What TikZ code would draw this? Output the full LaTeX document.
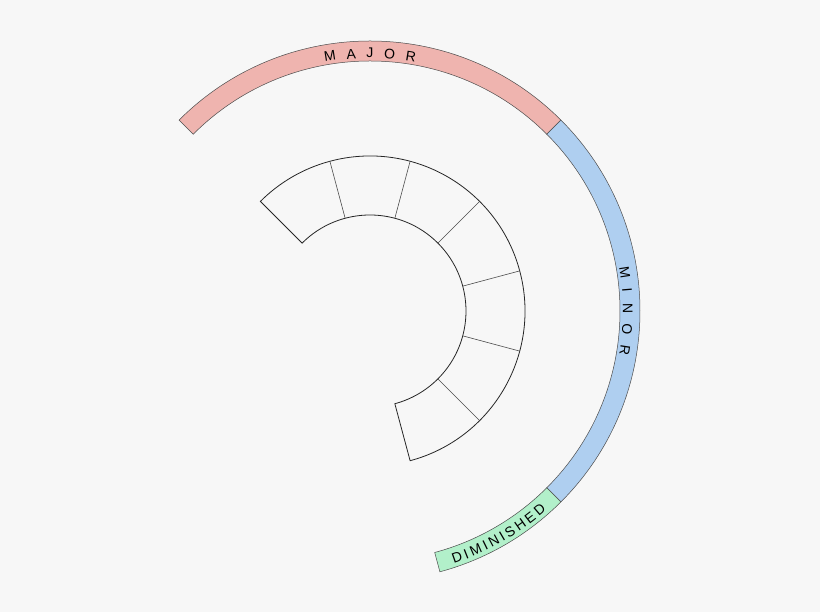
\documentclass[tikz,border=0pt]{standalone}
\usepackage{fontspec}
\setmainfont{Liberation Sans}
\usetikzlibrary{positioning}
\definecolor{bgcol}{HTML}{F7F7F7}
\definecolor{majorpink}{HTML}{EFB4AF}
\definecolor{minorblue}{HTML}{AFCFF0}
\definecolor{dimgreen}{HTML}{B2F0CA}
\tikzset{band/.style={draw=black!70,line width=0.5pt},
         ring/.style={draw=black!85,line width=0.8pt},
         divider/.style={draw=black!70,line width=0.6pt},
         letter/.style={font=\fontsize{14}{14}\selectfont,inner sep=0pt,anchor=base},
            }

\begin{document}
\begin{tikzpicture}[x=1pt,y=1pt]

    \useasboundingbox[fill=bgcol] (-370,-301) rectangle (450,311);

    % outer bands
    \draw[band,fill=majorpink] (135:250) arc[start angle=135,end angle=45,radius=250]
        -- (45:270) arc[start angle=45,end angle=135,radius=270] -- cycle;
    \draw[band,fill=minorblue] (45:250) arc[start angle=45,end angle=-45,radius=250]
        -- (-45:270) arc[start angle=-45,end angle=45,radius=270] -- cycle;
    \draw[band,fill=dimgreen] (-45:250) arc[start angle=-45,end angle=-75,radius=250]
        -- (-75:270) arc[start angle=-75,end angle=-45,radius=270] -- cycle;

    % inner ring
    \draw[ring] (135:96) arc[start angle=135,end angle=-75,radius=96]
        -- (-75:155) arc[start angle=-75,end angle=135,radius=155] -- cycle;
    \foreach \a in {105,75,...,-45}
        \draw[divider] (\a:96) -- (\a:155);

    % labels
    \foreach \ch/\a [count=\i] in {M/98.94,A/94.21,J/90,O/85.62,R/80.88}
        \node[letter,rotate=\a-90] (major-\i) at (\a:253) {\ch};
    \foreach \ch/\a [count=\i] in {M/8.67,I/4.56,N/0.62,O/-4.12,R/-8.85}
        \node[letter,rotate=\a-90] (minor-\i) at (\a:253) {\ch};
    \foreach \ch/\a [count=\i] in {D/-70.51,I/-68.39,M/-66.11,I/-63.83,N/-61.72,
                                   I/-59.61,S/-57.58,H/-54.89,E/-52.19,D/-49.49}
        \node[letter,rotate=\a+90] (dim-\i) at (\a:266) {\ch};

\end{tikzpicture}
\end{document}
